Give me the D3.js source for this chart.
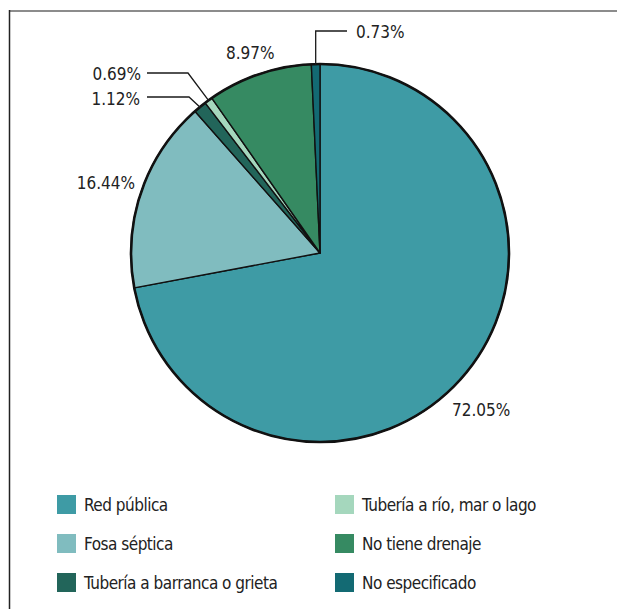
<!DOCTYPE html>
<html><head><meta charset="utf-8">
<script src="https://cdn.jsdelivr.net/npm/d3@7"></script>
<style>
html,body{margin:0;padding:0;background:#fff;}
svg{display:block;}
text{font-family:"Liberation Sans Narrow","DejaVu Sans Condensed","Lato",sans-serif;fill:#222;}
</style></head>
<body>
<script>
// Data
const categories = ["Red pública","Fosa séptica","Tubería a barranca o grieta","Tubería a río, mar o lago","No tiene drenaje","No especificado"];
const values = [72.05, 16.44, 1.12, 0.69, 8.97, 0.73];
const valueLabels = ["72.05%","16.44%","1.12%","0.69%","8.97%","0.73%"];
const colors = ["#3e9ba5","#80bcbf","#22655a","#a5d7bd","#368a62","#136a73"];
const legendOrder = [0,3,1,4,2,5];

const W = 617, H = 609;
const cx = 320, cy = 253, R = 189;

const svg = d3.select("body").append("svg").attr("width", W).attr("height", H);

// frame lines
svg.append("line").attr("x1",9).attr("x2",617).attr("y1",11).attr("y2",11)
  .attr("stroke","#8c8c8c").attr("stroke-width",2);
svg.append("line").attr("x1",9.5).attr("x2",9.5).attr("y1",10).attr("y2",609)
  .attr("stroke","#222").attr("stroke-width",1.5);

const pie = d3.pie().sort(null).value(d => d);
const arcs = pie(values);
const arc = d3.arc().innerRadius(0).outerRadius(R);

const g = svg.append("g").attr("transform", `translate(${cx},${cy})`);
g.selectAll("path.slice").data(arcs).enter().append("path")
  .attr("class","slice")
  .attr("d", arc)
  .attr("fill", (d,i) => colors[i])
  .attr("stroke", "#111")
  .attr("stroke-width", 1.4)
  .attr("stroke-linejoin","round");
g.append("circle").attr("r", R).attr("fill","none").attr("stroke","#111").attr("stroke-width",2.6);

// point on the rim at the slice's middle angle
function rim(d, r) {
  const a = (d.startAngle + d.endAngle) / 2;
  return [Math.sin(a) * r, -Math.cos(a) * r];
}

// label layout (absolute page positions of text anchor / leader elbows)
const labelLayout = [
  {x: 452, y: 416, anchor: "start"},                 // 72.05
  {x: 135, y: 189, anchor: "end"},                   // 16.44
  {x: 140, y: 105, anchor: "end", elbow: [189, 97], start: 147},   // 1.12
  {x: 141, y: 80,  anchor: "end", elbow: [188, 73], start: 147},   // 0.69
  {x: 226, y: 59,  anchor: "start"},                 // 8.97
  {x: 356, y: 38,  anchor: "start", elbow: [316, 31], start: 347, vertical: true} // 0.73
];

arcs.forEach((d, i) => {
  const L = labelLayout[i];
  if (L.elbow) {
    const p = rim(d, R - 1);
    const px = cx + p[0], py = cy + p[1];
    let pts;
    if (L.vertical) pts = [[L.start, L.elbow[1]], [px, L.elbow[1]], [px, py]];
    else pts = [[L.start, L.elbow[1]], L.elbow, [px, py]];
    svg.append("path").attr("d", d3.line()(pts))
      .attr("fill","none").attr("stroke","#1a1a1a").attr("stroke-width",1.3);
  }
  svg.append("text").attr("x", L.x).attr("y", L.y)
    .attr("text-anchor", L.anchor).attr("font-size", 17)
    .text(valueLabels[i]);
});

// legend
const colX = [57, 335], rowY = [495, 534, 573];
legendOrder.forEach((idx, k) => {
  const col = k % 2, row = Math.floor(k / 2);
  const lg = svg.append("g").attr("transform", `translate(${colX[col]},${rowY[row]})`);
  lg.append("rect").attr("width", 19).attr("height", 19).attr("fill", colors[idx]);
  lg.append("text").attr("x", 27).attr("y", 15.5).attr("font-size", 17)
    .attr("letter-spacing", -0.5).text(categories[idx]);
});
</script>
</body></html>
